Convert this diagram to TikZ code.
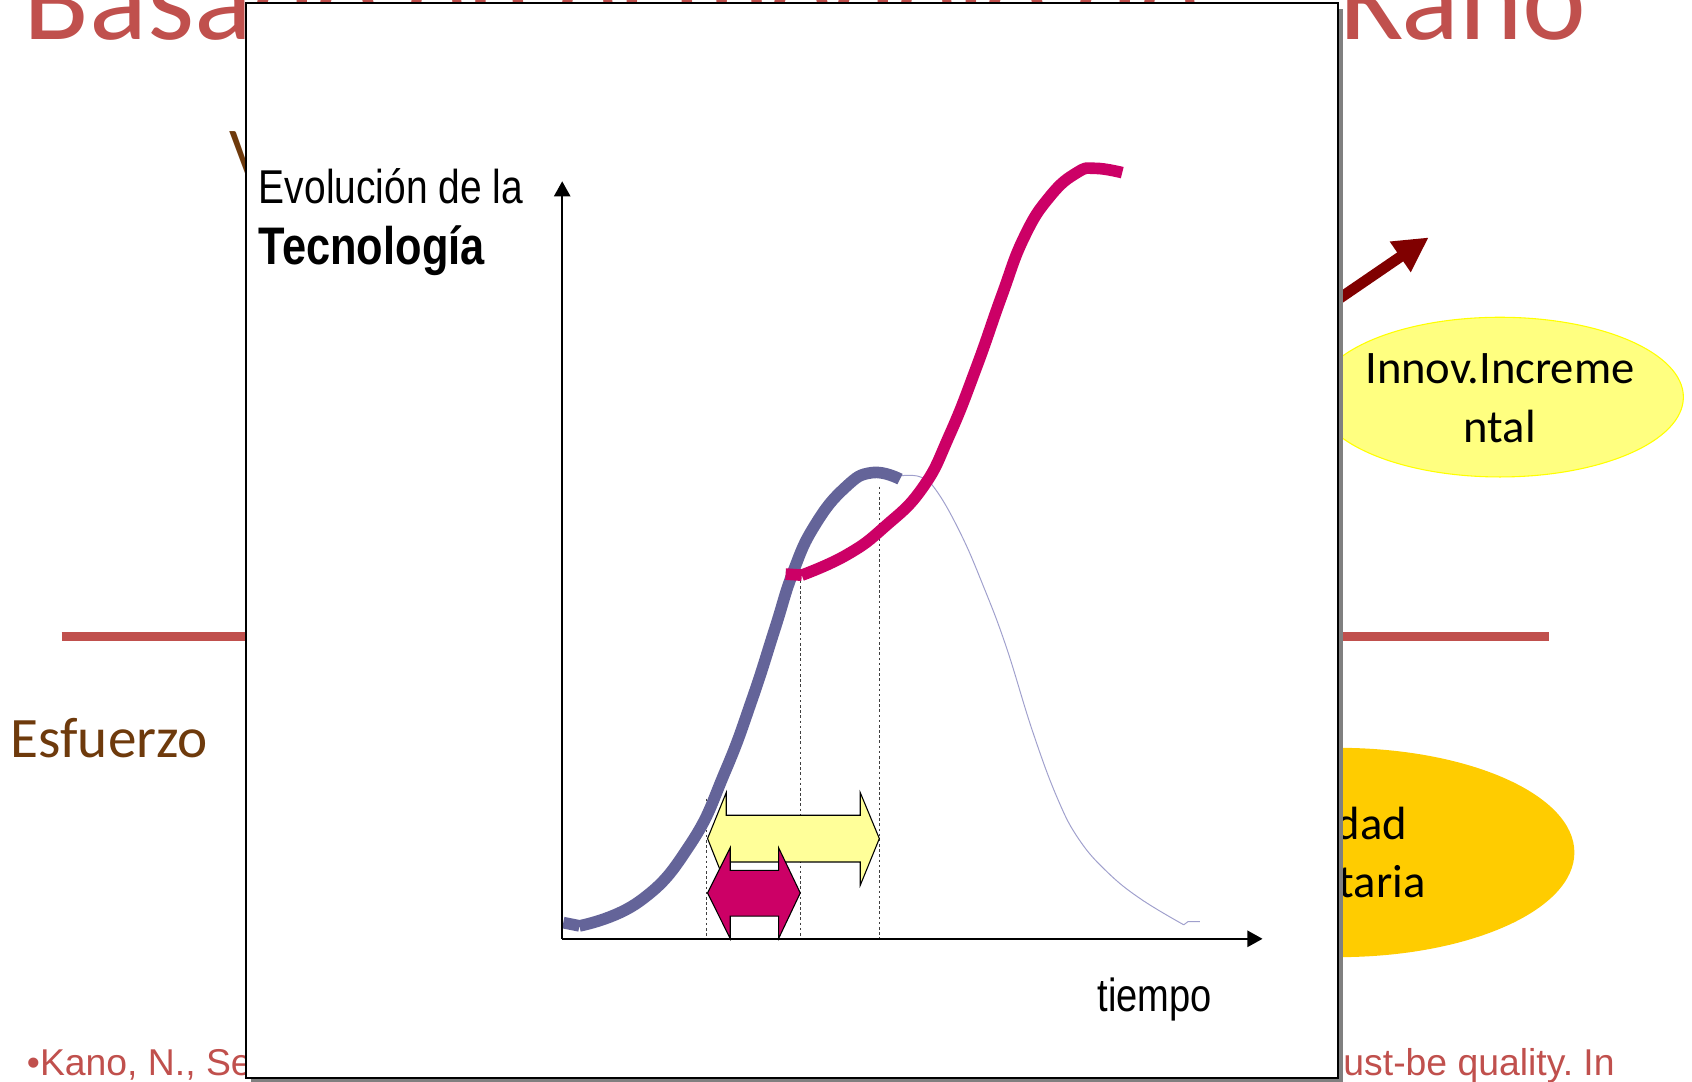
\documentclass[tikz,border=0pt]{standalone}
\usepackage{fontspec}
\setmainfont{Carlito}
\newfontfamily\arialn{Liberation Sans}[FakeStretch=0.82]
\newfontfamily\arialf{Liberation Sans}
\usetikzlibrary{arrows.meta,shapes.geometric}
\frenchspacing
\definecolor{kred}{HTML}{C0504D}
\definecolor{kbrown}{RGB}{110,58,12}
\definecolor{kdark}{HTML}{800000}
\definecolor{klight}{HTML}{FFFF80}
\definecolor{kedge}{HTML}{FFFF00}
\definecolor{korange}{HTML}{FFCC00}
\definecolor{kblue}{RGB}{100,100,153}
\definecolor{kmag}{HTML}{CC0066}
\definecolor{kthin}{RGB}{160,160,205}
\definecolor{kyel}{HTML}{FFFF99}
\definecolor{kshadow}{RGB}{128,128,128}
\tikzset{
  txt/.style={inner sep=0pt, outer sep=0pt},
  curvethick/.style={line width=5.4pt, line cap=butt, line join=round},
  guide/.style={line width=0.4pt, black!75, dash pattern=on 1.2pt off 1.2pt},
  axis/.style={line width=1pt, -{Triangle[length=7pt,width=7.5pt]}},
  dblarrow/.style={draw=black, line width=0.5pt, line join=miter},
}
\begin{document}
\begin{tikzpicture}[x=0.5pt,y=-0.5pt]
\useasboundingbox (0,0) rectangle (1568,1002);
% background slide
\node[txt, anchor=base west, text=kred, font=\fontsize{56}{60}\selectfont] (title1) at (22,37) {Basado en el modelo de};
\node[txt, anchor=base east, text=kred, font=\fontsize{56}{60}\selectfont] (title2) at (1470,37) {Kano};
\node[txt, anchor=base west, text=kbrown, font=\fontsize{31}{34}\selectfont] (vtxt) at (213,162) {V};
\draw[kred, line width=4pt] (57,590) -- (1435,590);
\node[txt, anchor=base west, text=kbrown, font=\fontsize{26.5}{30}\selectfont] (esf) at (10,702) {Esfuerzo};
\node[txt, anchor=base west, text=kred, font=\arialf\fontsize{17.3}{20}\selectfont] (cit1) at (25,997) {•Kano, N., Se};
\node[txt, anchor=base west, text=kred, font=\arialf\fontsize{17.3}{20}\selectfont] (cit2) at (1245,997) {ust-be quality. In};
\coordinate (arrs) at (1150,339);
\coordinate (arrt) at (1324,220);
\draw[kdark, line width=5pt, -{Triangle[length=16pt,width=16pt]}] (arrs) -- (arrt);
\node[ellipse, draw=kedge, line width=0.5pt, fill=klight, minimum width=170pt, minimum height=74pt, inner sep=0pt] (inc) at (1390,368) {};
\node[txt, anchor=base, font=\fontsize{21.6}{24}\selectfont] (inc1) at (1390,355) {Innov.Increme};
\node[txt, anchor=base, font=\fontsize{21.6}{24}\selectfont] (inc2) at (1390,410) {ntal};
\node[ellipse, fill=korange, minimum width=219pt, minimum height=97pt, inner sep=0pt] (cal) at (1240,790) {};
\node[txt, anchor=base east, font=\fontsize{21.6}{24}\selectfont] (cal1) at (1304,778) {dad};
\node[txt, anchor=base east, font=\fontsize{21.6}{24}\selectfont] (cal2) at (1321,832) {taria};
% overlay picture
\fill[kshadow] (233,8) rectangle (1245,1004);
\draw[fill=white, line width=0.75pt] (228,3) rectangle (1240,999);
% guides
\draw[guide] (655,740) -- (655,870);
\draw[guide] (742,519) -- (742,870);
\draw[guide] (815,451) -- (815,870);
% thin curve
\draw[kthin, line width=0.45pt] plot[smooth, tension=0.7] coordinates {(834,441) (853,442) (868,455) (890,494) (910,540) (932,598) (957,678) (980,740) (1000,778) (1026,808) (1057,833) (1097,857)};
\draw[kthin, line width=0.45pt] (1097,857) -- (1101,854) -- (1112,854);
% blue curve
\draw[kblue, curvethick] (522,855) -- (537,858) plot[smooth, tension=0.8] coordinates {(537,858) (593,835) (640,782) (672,715) (697,648) (718,583) (735,530) (755,487) (783,452) (808,438) (834,444)};
% magenta curve
\draw[kmag, curvethick] (728,532) -- (743,533) plot[smooth, tension=0.8] coordinates {(743,533) (785,514) (820,488) (855,452) (880,403) (905,340) (928,275) (949,220) (973,182) (998,160) (1015,156) (1040,160)};
% axes
\coordinate (org) at (521,870);
\coordinate (ytip) at (521,168);
\coordinate (xtip) at (1170,870);
\draw[axis] (org) -- (ytip);
\draw[axis] (org) -- (xtip);
% double arrows
\fill[kyel, dblarrow] (655.7,777.1) -- (673,734.5) -- (673,755.5) -- (797.2,755.5) -- (797.2,734.5) -- (814.9,777.1) -- (797.2,820.4) -- (797.2,798.8) -- (673,798.8) -- (673,820.4) -- cycle;
\fill[kmag, dblarrow] (655.7,827.5) -- (676.7,785.5) -- (676.7,806.5) -- (721.5,806.5) -- (721.5,785.5) -- (741.6,827.5) -- (721.5,869.8) -- (721.5,848.9) -- (676.7,848.9) -- (676.7,869.8) -- cycle;
% labels
\node[txt, anchor=base west, font=\arialn\fontsize{22}{26}\selectfont] (evo) at (240,189) {Evolución de la};
\node[txt, anchor=base west, font=\arialn\bfseries\fontsize{24.5}{28}\selectfont] (tec) at (240,245) {Tecnología};
\node[txt, anchor=base west, font=\arialn\fontsize{21.5}{26}\selectfont] (tie) at (1017,937) {tiempo};
\end{tikzpicture}
\end{document}
